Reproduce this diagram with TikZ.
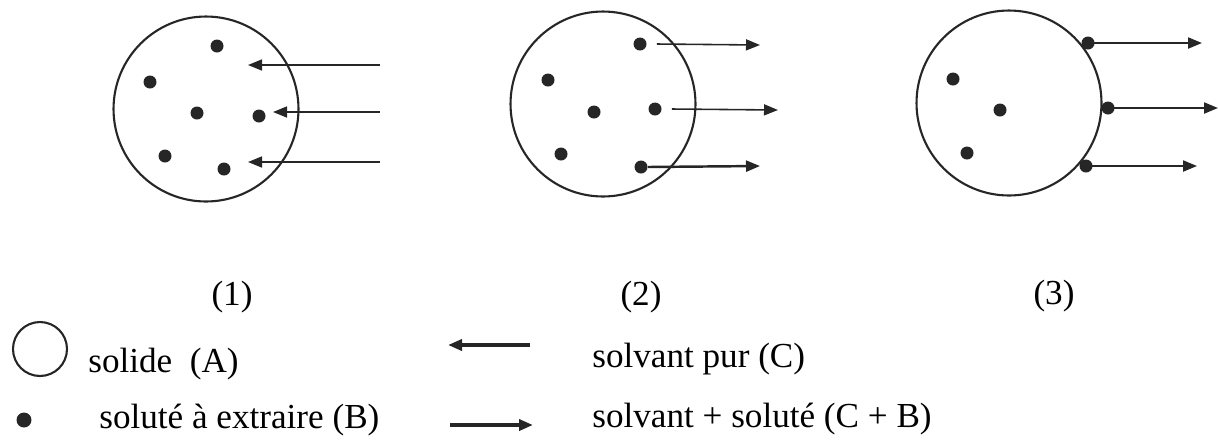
\documentclass[tikz,border=0pt]{standalone}
\usepackage{fontspec}
\setmainfont{Liberation Serif}
\usetikzlibrary{arrows.meta}

\begin{document}
\begin{tikzpicture}[
  x=0.02cm, y=-0.02cm,
  font=\fontsize{20}{24}\selectfont,
  solide/.style={draw=black!85, circle, line width=1.2pt, inner sep=0pt, minimum size=3.70cm},
  solute/.style={fill=black!85, circle, inner sep=0pt, minimum size=0.26cm},
  arr/.style ={draw=black!85, -{Triangle[length=0.28cm, width=0.22cm]}, line width=0.9pt},
  tarr/.style={arr, line width=1.4pt},
  lbl/.style={inner sep=0pt, anchor=base west},
]
\useasboundingbox (0,0) rectangle (1219,441);

%% ====================================================================
%%  STAGE (1) -- pure solvent enters the solid
%% ====================================================================
\node[solide] (s1) at (206,109) {};
\node[solute] (b11) at (217,46) {};
\node[solute] (b12) at (150,82) {};
\node[solute] (b13) at (197,113) {};
\node[solute] (b14) at (259,116) {};
\node[solute] (b15) at (165,156) {};
\node[solute] (b16) at (224,169) {};

\coordinate (in1a) at (380,65);  \coordinate (t1a) at (248,65);
\coordinate (in1b) at (380,112); \coordinate (t1b) at (273,112);
\coordinate (in1c) at (380,162); \coordinate (t1c) at (248,162);
\draw[arr] (in1a) -- (t1a);
\draw[arr] (in1b) -- (t1b);
\draw[arr] (in1c) -- (t1c);

%% ====================================================================
%%  STAGE (2) -- solute leaves with the solvent
%% ====================================================================
\node[solide] (s2) at (603,104) {};
\node[solute] (b21) at (640,44) {};
\node[solute] (b22) at (548,80) {};
\node[solute] (b23) at (594,112) {};
\node[solute] (b24) at (655,109) {};
\node[solute] (b25) at (561,154) {};
\node[solute] (b26) at (641,167) {};

\coordinate (o2a) at (760,45);
\coordinate (o2b) at (778,110);
\coordinate (o2c) at (760,166);
\draw[arr]  ([xshift=0.2cm]b21.east) -- (o2a);
\draw[arr]  ([xshift=0.2cm]b24.east) -- (o2b);
\draw[tarr] (b26.east) -- (o2c);

%% ====================================================================
%%  STAGE (3) -- solute at the surface
%% ====================================================================
\node[solide] (s3) at (1009,103) {};
\node[solute] (b31) at (953,79) {};
\node[solute] (b32) at (1000,110) {};
\node[solute] (b33) at (967,153) {};
\node[solute] (b34) at (1088,43) {};
\node[solute] (b35) at (1108,108) {};
\node[solute] (b36) at (1086,166) {};

\coordinate (o3a) at (1202,43);
\coordinate (o3b) at (1218,108);
\coordinate (o3c) at (1197,166);
\draw[arr, line width=1.2pt] (b34.center) -- (o3a);
\draw[arr, line width=1.2pt] (b35.center) -- (o3b);
\draw[arr, line width=1.2pt] (b36.center) -- (o3c);

%% -- stage numbers --
\node (n1) at (232,297) {(1)};
\node (n2) at (641,297) {(2)};
\node (n3) at (1054,296) {(3)};

%% ====================================================================
%%  LEGEND
%% ====================================================================
\node[solide, minimum size=1.08cm] (legA) at (40,349) {};
\node[solute, minimum size=0.3cm] (legB) at (24,420) {};
\node[lbl] (txtA) at (88,372) {solide\enspace(A)};
\node[lbl] (txtB) at (99,428) {soluté à extraire (B)};

\coordinate (lin) at (530,345); \coordinate (lintip) at (448,345);
\coordinate (lout) at (450,425); \coordinate (louttip) at (533,425);
\draw[tarr, line width=2pt] (lin) -- (lintip);
\draw[tarr, line width=2pt] (lout) -- (louttip);
\node[lbl] (txtC) at (592,367) {solvant pur (C)};
\node[lbl] (txtCB) at (592,427) {solvant + soluté (C + B)};

\end{tikzpicture}
\end{document}
